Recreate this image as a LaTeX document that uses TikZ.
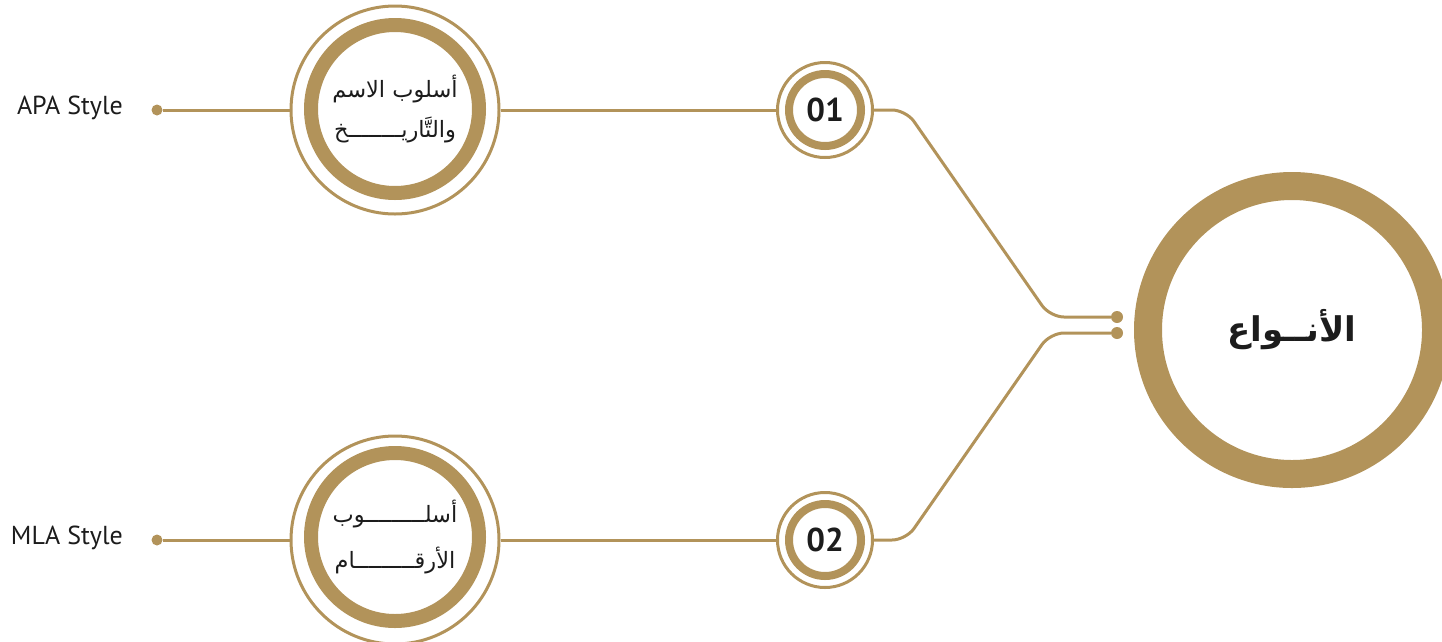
\documentclass[tikz,border=0pt]{standalone}
\usepackage{fontspec}
\setmainfont{PT Sans}
\newfontfamily\arabicfont[Script=Arabic]{DejaVu Sans}
\TeXXeTstate=1
\definecolor{gold}{RGB}{178,147,90}
\definecolor{ink}{RGB}{28,28,28}
\tikzset{
  conn/.style={draw=gold, line width=3pt},
  dotnode/.style={circle, fill=gold, inner sep=0pt, minimum size=11pt},
  thinring/.style={circle, draw=gold, line width=3pt, inner sep=0pt},
  bigring/.style={circle, draw=gold, line width=14pt, inner sep=0pt, minimum size=168pt, text=ink, align=center},
  numring/.style={circle, draw=gold, line width=8pt, inner sep=0pt, minimum size=72pt, text=ink,
     font=\bfseries\fontsize{33}{36}\selectfont},
  mainring/.style={circle, draw=gold, line width=28pt, inner sep=0pt, minimum size=288pt, text=ink,
     font=\arabicfont\bfseries\fontsize{34}{40}\selectfont},
  label/.style={anchor=east, inner sep=0pt, text=ink, font=\fontsize{26}{30}\selectfont}
}
\begin{document}
\begin{tikzpicture}[x=1pt,y=-1pt]
\useasboundingbox (0,0) rectangle (1442,641);
% main circle
\node[mainring] (m) at (1292,330) {\beginR الأنــواع\endR};
% outer rings
\node[thinring, minimum size=208pt] (c1o) at (395,110) {};
\node[thinring, minimum size=208pt] (c2o) at (395,540) {};
\node[thinring, minimum size=95pt] (n1o) at (825,110) {};
\node[thinring, minimum size=95pt] (n2o) at (825,540) {};
% inner rings with text
\node[bigring, font=\arabicfont\fontsize{22.5}{40}\selectfont] (c1) at (395,109)
  {\beginR أسلوب الاسم\endR\\\beginR والتَّاريــــــــخ\endR};
\node[bigring, font=\arabicfont\fontsize{22.5}{46}\selectfont] (c2) at (395,537)
  {\beginR أسلـــــــــوب\endR\\\beginR الأرقـــــــــام\endR};
\node[numring] (n1) at (825,110) {01};
\node[numring] (n2) at (825,540) {02};
% dots
\node[dotnode] (d1) at (157,110) {};
\node[dotnode] (d2) at (157,540) {};
\node[dotnode, minimum size=12pt] (e1) at (1117,317) {};
\node[dotnode, minimum size=12pt] (e2) at (1117,333) {};
% labels
\node[label] (l1) at (123,108) {APA Style};
\node[label] (l2) at (123,538) {MLA Style};
% bend points
\coordinate (k1) at (906,110);
\coordinate (k2) at (1050,317);
\coordinate (k3) at (906,540);
\coordinate (k4) at (1050,333);
% connectors
\draw[conn] (d1) -- (c1o);
\draw[conn] (d2) -- (c2o);
\draw[conn] (c1o) -- (n1o);
\draw[conn] (c2o) -- (n2o);
\draw[conn, rounded corners=14pt] (n1o) -- (k1) -- (k2) -- (e1);
\draw[conn, rounded corners=14pt] (n2o) -- (k3) -- (k4) -- (e2);
\end{tikzpicture}
\end{document}
